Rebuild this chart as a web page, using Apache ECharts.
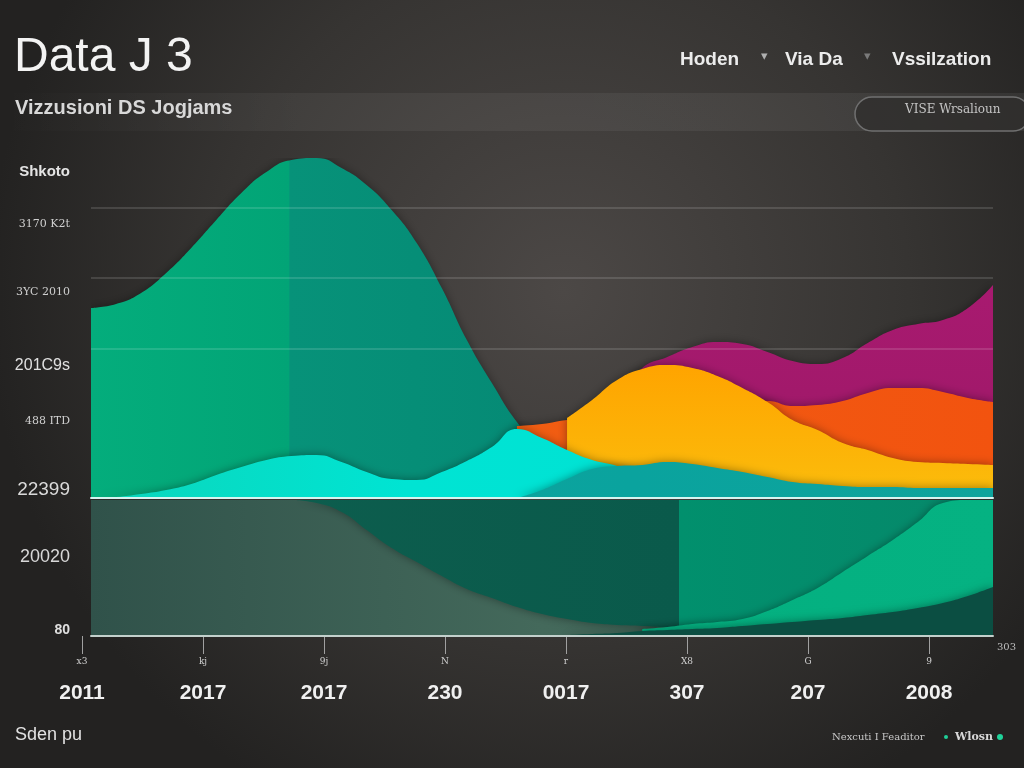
<!DOCTYPE html>
<html><head><meta charset="utf-8">
<script src="https://cdn.jsdelivr.net/npm/echarts@6/dist/echarts.min.js"></script>
<style>html,body{margin:0;padding:0;background:#2b2a29}#c{width:1024px;height:768px}</style>
</head><body><div id="c"></div><script>
// sample positions along the time axis (index of each sample)
const SAMPLE_X = [0,1,2,3,4,5,6,7,8,9,10,11,12,13,14,15,16,17,18,19,20,21,22,23,24,25,26,27,28,29,30,31,32,33,34,35,36];
const _ = null;
// upper panel (heights above the white baseline)
const GREEN   = [190,194,205,225,250,278,305,326,338,340,330,313,288,255,210,158,115,76,48,23,3,0,_,_,_,_,_,_,_,_,_,_,_,_,_,_,_];
const MAGENTA = [_,_,_,_,_,_,_,_,_,_,_,_,_,_,_,_,_,_,_,_,70,100,130,141,151,156,154,146,137,134,140,155,168,174,178,190,213];
const ORANGE  = [_,_,_,_,_,_,_,_,_,_,_,_,_,_,_,_,_,72,74,78,80,84,88,90,92,93,94,97,92,93,97,105,110,110,106,100,96];
const YELLOW  = [_,_,_,_,_,_,_,_,_,_,_,_,_,_,_,_,_,_,_,80,98,118,129,133,130,122,110,96,78,68,55,48,40,36,35,34,33];
const CYAN    = [0,1,4,8,14,23,31,38,42,43,36,26,19,18,26,37,51,69,60,48,38,32,22,12,_,_,_,_,_,_,_,_,_,_,_,_,_];
const TEAL    = [_,_,_,_,_,_,_,_,_,_,_,_,_,_,_,_,_,0,8,19,29,32,33,36,34,30,26,21,16,14,12,11,11,10,10,10,10];
// lower panel (depth of each layer's upper edge below the white baseline)
const DEEP    = [_,_,_,_,_,_,_,_,0,3,12,30,48,62,76,89,98,107,114,119,123,125,126,127,127,127,127,127,127,127,127,127,127,127,127,127,127];
const BRIGHT  = [_,_,_,_,_,_,_,_,_,_,_,_,_,_,_,_,_,_,_,_,_,_,129,127,124,122,119,111,100,88,72,56,40,22,3,0,0];
const WEDGE   = [_,_,_,_,_,_,_,_,_,_,_,_,_,_,_,_,_,_,_,135,134,133,131,130,129,128,126,124,122,120,118,115,112,108,103,96,87];
const GRID_LINE_VALUES = [149,220,290];
// axis labels
const YEARS = ['2011','2017','2017','230','0017','307','207','2008'];
const TICK_CODES = ['x3','kj','9j','N','r','X8','G','9'];
const Y_LABELS = ['Shkoto','3170 K2t','3YC 2010','201C9s','488 ITD','22399','20020','80'];
const Y_LABEL_VALUES = [464,412,344,270,215,146,79,6];

const FONT = "'Liberation Sans', Arial, sans-serif";
function pts(arr){ return SAMPLE_X.map((x,i)=>[x,arr[i]]).filter(p=>p[1]!==null); }
function hgrad(stops){ return {type:'linear',x:91,y:0,x2:993,y2:0,global:true,colorStops:stops.map(s=>({offset:s[0],color:s[1]}))}; }
function vgrad(c1,c2){ return {type:'linear',x:0,y:0,x2:0,y2:1,colorStops:[{offset:0,color:c1},{offset:1,color:c2}]}; }
const SH = {shadowBlur:10, shadowColor:'rgba(0,0,0,0.38)'};
function area(name, data, color, xi, origin){
  const as = Object.assign({color, opacity:1}, SH);
  if (origin) as.origin = origin;
  return {name, type:'line', xAxisIndex:xi, yAxisIndex:xi, data:pts(data), smooth:0.5,
    symbol:'none', lineStyle:{width:0}, areaStyle:as, silent:true};
}
const ylRich = {
  r0:{fontSize:15,fontWeight:'bold',color:'#e4e4e4',fontFamily:FONT},
  r1:{fontSize:11,color:'#cfcfcf',fontFamily:'DejaVu Serif'},
  r2:{fontSize:11,color:'#cfcfcf',fontFamily:'DejaVu Serif'},
  r3:{fontSize:16,color:'#e0e0e0',fontFamily:FONT},
  r4:{fontSize:11,color:'#cfcfcf',fontFamily:'DejaVu Serif'},
  r5:{fontSize:19,color:'#dadada',fontFamily:FONT},
  r6:{fontSize:18,color:'#d8d8d8',fontFamily:FONT},
  r7:{fontSize:14,color:'#e0e0e0',fontFamily:FONT,fontWeight:'bold'}
};

const chart = echarts.init(document.getElementById('c'));
chart.setOption({
  animation:false,
  backgroundColor:{type:'radial',x:0.55,y:0.38,r:0.75,colorStops:[{offset:0,color:'#4c4846'},{offset:0.6,color:'#363432'},{offset:1,color:'#232221'}]},
  grid:[
    {left:91,right:31,top:158,height:340},
    {left:91,right:31,top:500,height:136,show:true,borderWidth:0,
     backgroundColor:{type:'linear',x:0,y:0,x2:1,y2:0,colorStops:[{offset:0,color:'#30524a'},{offset:0.5,color:'#44695b'},{offset:1,color:'#3a5e52'}]}},
    {left:82,width:847,top:150,height:486}
  ],
  xAxis:[
    {gridIndex:0,type:'value',min:0,max:36,z:10,axisLine:{show:true,lineStyle:{color:'#d6f4f0',width:2}},axisTick:{show:false},axisLabel:{show:false},splitLine:{show:false}},
    {gridIndex:1,type:'value',min:0,max:36,z:10,axisLine:{show:true,onZero:false,lineStyle:{color:'#c3d0cc',width:2}},axisTick:{show:false},axisLabel:{show:false},splitLine:{show:false},
     name:'303',nameLocation:'end',nameGap:4,nameTextStyle:{color:'#bdbdbd',fontSize:10,fontFamily:'DejaVu Serif',verticalAlign:'top',padding:[6,0,0,0]}},
    {gridIndex:2,type:'category',data:YEARS,boundaryGap:false,axisLine:{show:false},
     axisTick:{show:true,length:18,lineStyle:{color:'#a0a0a0',width:1}},
     axisLabel:{margin:21,interval:0,formatter:(v,i)=>'{s|'+TICK_CODES[i]+'}\n{y|'+v+'}',
       rich:{s:{fontSize:9,lineHeight:10,color:'#d0d0d0',fontFamily:'DejaVu Serif'},y:{fontSize:21,lineHeight:52,fontWeight:'bold',color:'#f0f0f0',fontFamily:FONT}}},
     splitLine:{show:false}}
  ],
  yAxis:[
    {gridIndex:0,type:'value',min:0,max:340,show:false},
    {gridIndex:1,type:'value',min:0,max:136,inverse:true,show:false},
    {gridIndex:2,type:'value',min:0,max:486,axisLine:{show:false},axisTick:{show:false},splitLine:{show:false},
     axisLabel:{margin:12,customValues:Y_LABEL_VALUES,formatter:(v)=>{const i=Y_LABEL_VALUES.indexOf(v);return i<0?'':'{r'+i+'|'+Y_LABELS[i]+'}';},rich:ylRich}}
  ],
  series:[
    {type:'line',xAxisIndex:0,yAxisIndex:0,data:[],z:1,silent:true,
     markLine:{silent:true,symbol:['none','none'],label:{show:false},lineStyle:{color:'rgba(255,255,255,0.13)',width:2,type:'solid'},
       data:GRID_LINE_VALUES.map(v=>({yAxis:v}))}},
    area('green',GREEN,hgrad([[0,'#04ad7c'],[0.22,'#02a476'],[0.2201,'#079279'],[0.5,'#058a75'],[1,'#058a75']]),0),
    area('magenta',MAGENTA,vgrad('#a81a70','#9c1866'),0),
    area('orange',ORANGE,hgrad([[0,'#f06a10'],[0.6,'#f15a12'],[1,'#f2530f']]),0),
    area('yellow',YELLOW,vgrad('#ffa400','#fbbd0c'),0),
    area('cyan',CYAN,hgrad([[0,'#0bd6bb'],[0.35,'#00e4d3'],[0.6,'#00e2d4'],[1,'#00e2d4']]),0),
    area('teal',TEAL,hgrad([[0,'#10a59d'],[0.6,'#0aa39e'],[1,'#0ea49c']]),0),
    area('deep',DEEP,hgrad([[0,'#0e5f4f'],[0.652,'#0a5a4b'],[0.6521,'#01906d'],[1,'#06886a']]),1),
    area('bright',BRIGHT,hgrad([[0,'#00ac7c'],[1,'#05b282']]),1,'end'),
    area('wedge',WEDGE,'#0b4e42',1,'end')
  ],
  graphic:[
    {type:'rect',silent:true,z:-1,shape:{x:0,y:93,width:1024,height:38},
     style:{fill:{type:'linear',x:0,y:0,x2:1,y2:0,colorStops:[{offset:0,color:'rgba(255,255,255,0)'},{offset:0.3,color:'rgba(255,255,255,0.05)'},{offset:1,color:'rgba(255,255,255,0.06)'}]}}},
    {type:'rect',silent:true,shape:{x:855,y:97,width:175,height:34,r:17},style:{fill:'rgba(45,44,43,0.7)',stroke:'#707070',lineWidth:1.5}},
    {type:'text',silent:true,style:{x:905,y:110,text:'VISE Wrsalioun',font:'12px DejaVu Serif',fill:'#c4c4c4',verticalAlign:'middle'}},
    {type:'text',silent:true,style:{x:14,y:58,text:'Data J 3',font:'48px '+FONT,fill:'#f3f3f3',verticalAlign:'middle'}},
    {type:'text',silent:true,style:{x:15,y:108,text:'Vizzusioni DS Jogjams',font:'bold 20px '+FONT,fill:'#d8d8d8',verticalAlign:'middle'}},
    {type:'text',silent:true,style:{x:680,y:60,text:'Hoden',font:'bold 19px '+FONT,fill:'#ececec',verticalAlign:'middle'}},
    {type:'text',silent:true,style:{x:761,y:57,text:'▾',font:'13px DejaVu Sans',fill:'#b0b0b0',verticalAlign:'middle'}},
    {type:'text',silent:true,style:{x:785,y:60,text:'Via Da',font:'bold 19px '+FONT,fill:'#ececec',verticalAlign:'middle'}},
    {type:'text',silent:true,style:{x:864,y:57,text:'▾',font:'13px DejaVu Sans',fill:'#7a7a7a',verticalAlign:'middle'}},
    {type:'text',silent:true,style:{x:892,y:60,text:'Vssilzation',font:'bold 19px '+FONT,fill:'#ececec',verticalAlign:'middle'}},
    {type:'text',silent:true,style:{x:15,y:735,text:'Sden pu',font:'18px '+FONT,fill:'#e2e2e2',verticalAlign:'middle'}},
    {type:'text',silent:true,style:{x:832,y:737,text:'Nexcuti I Feaditor',font:'10px DejaVu Serif',fill:'#c8c8c8',verticalAlign:'middle'}},
    {type:'circle',silent:true,shape:{cx:946,cy:737,r:2},style:{fill:'#1fcf98'}},
    {type:'text',silent:true,style:{x:955,y:737,text:'Wlosn',font:'bold 11px DejaVu Serif',fill:'#d8d8d8',verticalAlign:'middle'}},
    {type:'circle',silent:true,shape:{cx:1000,cy:737,r:3},style:{fill:'#1fd39a'}}
  ]
});
</script></body></html>
